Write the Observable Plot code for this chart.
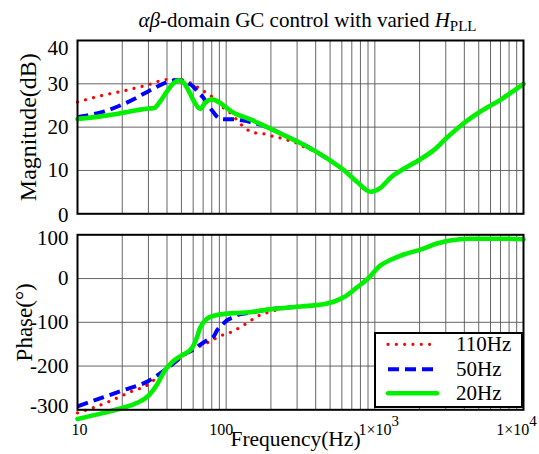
<!DOCTYPE html>
<html><head><meta charset="utf-8">
<script src="https://cdn.jsdelivr.net/npm/d3@7"></script>
<script src="https://cdn.jsdelivr.net/npm/@observablehq/plot@0.6"></script>
<style>
html,body{margin:0;padding:0;background:#fff;}
#wrap{position:relative;width:539px;height:454px;overflow:hidden;font-family:"Liberation Serif","Times New Roman",serif;}
#title{position:absolute;left:0;width:615px;top:10px;text-align:center;font-size:21px;line-height:21px;white-space:nowrap;color:#000;}
#title .sub{font-size:15px;position:relative;top:4px;}
.panel{position:absolute;left:0;}
#legend{position:absolute;left:374px;top:332px;width:145px;height:72px;border:2px solid #000;background:#fff;}
#legend svg{overflow:visible;display:block;}
</style></head>
<body>
<div id="wrap">
  <div id="title"><i>αβ</i>-domain GC control with varied <i>H</i><span class="sub">PLL</span></div>
  <div id="p1" class="panel" style="top:0px"></div>
  <div id="p2" class="panel" style="top:224px"></div>
  <div id="legend"></div>
</div>
<script>
// ---------- data ----------
const seriesNames = ["110Hz", "50Hz", "20Hz"];

// Magnitude (dB)
const magRedF = [10, 15, 20, 30, 40, 48, 55, 60, 70.6, 82.6, 96.4, 107, 128, 142, 161, 184, 209, 238, 270, 300, 340, 380, 420, 477];
const magRed  = [25.8, 27.4, 28.3, 29.8, 31.0, 31.0, 30.5, 29.8, 28.3, 26.7, 24.4, 23.2, 20.4, 19.2, 18.6, 18.4, 17.8, 17.4, 16.8, 16.3, 15.3, 14.7, 14.0, 12.8];

const magBlueF = [10, 15, 20, 25, 30, 35, 40, 48, 55, 60, 63.9, 70.6, 76, 82.6, 89, 96.4, 112.5, 131, 145, 188.7, 250, 318, 477];
const magBlue  = [22.3, 23.6, 25.2, 26.8, 28.3, 29.5, 30.4, 30.9, 30.2, 29.4, 28.3, 26.7, 25.0, 23.3, 22.1, 21.8, 21.8, 21.5, 21.2, 20.0, 18.0, 16.3, 12.8];

const magGreenF = [10, 15, 20, 25, 30, 33, 34.3, 36.1, 40.1, 44.4, 48, 51.9, 56.1, 60.6, 65.5, 67, 72.5, 80, 112.5, 150, 188.7, 250, 318, 477, 617, 760, 935, 1091, 1280, 1500, 2026, 2490, 3060, 3963, 5130, 6993, 10000];
const magGreen  = [21.9, 22.6, 23.3, 23.9, 24.3, 24.4, 25.0, 26.0, 28.3, 30.2, 30.8, 30.2, 28.3, 26.0, 24.4, 24.2, 25.7, 26.4, 23.3, 21.6, 20.0, 18.0, 16.3, 12.8, 10.1, 7.35, 5.1, 6.0, 8.4, 10.0, 12.6, 14.7, 17.6, 20.9, 23.6, 26.3, 30.0];

// Phase (deg)
const phRedF = [10, 12.6, 16.6, 22.7, 30, 36.1, 40, 45, 51.9, 59.1, 67, 78.4, 91.6, 107, 124.7, 142, 161, 198, 230, 318];
const phRed  = [-307, -296, -280, -259, -242, -219, -206, -192, -176, -162, -154, -143, -131, -123, -111, -99, -87, -76, -70, -64];

const phBlueF = [10, 15, 20, 30, 39, 45, 51.9, 59.1, 67, 70.6, 77, 82.6, 87, 94, 101.5, 112.5, 120, 140, 188.7, 318];
const phBlue  = [-292, -271, -256, -234, -208, -192, -174, -164, -151, -146, -138, -132, -118, -106, -95, -88, -83, -79, -71, -64];

const phGreenF = [10, 15, 20, 25.2, 30.2, 34.3, 39, 42.2, 44.4, 51.9, 59.1, 62.2, 67, 72.5, 82.6, 112.5, 145, 188.7, 318, 477, 528, 617, 760, 900, 1091, 1280, 1564, 2026, 2620, 3200, 4370, 7300, 10000];
const phGreen  = [-321, -307, -296, -284, -267, -242, -208, -195, -188, -173, -158, -143, -112, -95, -85, -79, -77, -71, -64, -57, -53, -43, -20, 0, 30, 43, 55, 66, 80, 87, 91, 91, 90];

// ticks
const freqDomain = [10, 10000];
const freqGrid = [20,30,40,50,60,70,80,90,100,200,300,400,500,600,700,800,900,1000,2000,3000,4000,5000,6000,7000,8000,9000];
const xTicks = [10, 100, 1000, 10000];
const xTickLabels = ["10", "100", "1×10^3", "1×10^4"];
const magTicks = [0, 10, 20, 30, 40];
const phaseTicks = [-300, -200, -100, 0, 100];

// ---------- styles ----------
const styles = {
  "110Hz": {stroke: "#ff0000", strokeWidth: 3.2, strokeDasharray: "0.01,8.3", strokeLinecap: "round"},
  "50Hz":  {stroke: "#0000ff", strokeWidth: 4, strokeDasharray: "11,6", strokeLinecap: "butt"},
  "20Hz":  {stroke: "#00f000", strokeWidth: 4.6, strokeLinecap: "round"}
};
const font = "'Liberation Serif','Times New Roman',serif";
const table = (F, V) => F.map((f, i) => ({f, v: V[i]}));

function yAxes(ticks, dyMap) {
  const common = {tickSize: 0, tickPadding: 9, fontSize: 21, tickFormat: d => String(d), label: null};
  return ticks.map(t => Plot.axisY([t], {...common, dy: dyMap[t] || 0}));
}
function lines(sets) {
  return sets.map(([name, F, V]) => Plot.line(table(F, V), {x: "f", y: "v", curve: "monotone-x", ...styles[name]}));
}

const gridStyle = {stroke: "#555", strokeOpacity: 1, strokeWidth: 0.9};

// ---------- magnitude panel ----------
const p1 = Plot.plot({
  width: 539, height: 224,
  marginTop: 40, marginBottom: 10.7, marginLeft: 77, marginRight: 16,
  style: {background: "none", overflow: "visible", fontFamily: font},
  x: {type: "log", domain: freqDomain, axis: null},
  y: {domain: [0, 40], axis: null},
  marks: [
    Plot.gridX(freqGrid, gridStyle),
    Plot.gridY([10, 20, 30], gridStyle),
    ...lines([["110Hz", magRedF, magRed], ["50Hz", magBlueF, magBlue], ["20Hz", magGreenF, magGreen]]),
    Plot.frame({stroke: "#000", strokeWidth: 2}),
    ...yAxes(magTicks, {40: 8, 0: 1}),
    Plot.text(["Magnitude(dB)"], {frameAnchor: "left", textAnchor: "middle", rotate: -90, dx: -49, fontSize: 24})
  ]
});
document.getElementById("p1").appendChild(p1);

// ---------- phase panel ----------
const p2 = Plot.plot({
  width: 539, height: 230,
  marginTop: 10.3, marginBottom: 44.7, marginLeft: 77, marginRight: 16,
  style: {background: "none", overflow: "visible", fontFamily: font},
  x: {type: "log", domain: freqDomain, axis: null},
  y: {domain: [-300, 100], axis: null},
  marks: [
    Plot.gridX(freqGrid, gridStyle),
    Plot.gridY([-200, -100, 0], gridStyle),
    ...lines([["110Hz", phRedF, phRed], ["50Hz", phBlueF, phBlue], ["20Hz", phGreenF, phGreen]]),
    Plot.frame({stroke: "#000", strokeWidth: 2}),
    ...yAxes(phaseTicks, {100: 3.8, "-300": -4}),
    ...xTicks.map((t, i) => Plot.axisX([t], {
      tickSize: 0, tickPadding: 14, fontSize: 16, label: null,
      tickFormat: d => xTickLabels[xTicks.indexOf(d)],
      dx: [2, -5, 4, -7][i]
    })),
    Plot.text(["Phase(°)"], {frameAnchor: "left", textAnchor: "middle", rotate: -90, dx: -53, fontSize: 23}),
    Plot.text(["Frequency(Hz)"], {frameAnchor: "bottom", textAnchor: "middle", dy: 36, dx: -5, fontSize: 21.5})
  ]
});
document.getElementById("p2").appendChild(p2);

// superscripts for 1×10^n tick labels
p2.querySelectorAll("text").forEach(t => {
  const s = t.textContent;
  if (s.includes("^")) {
    const [base, exp] = s.split("^");
    t.textContent = "";
    const a = document.createElementNS("http://www.w3.org/2000/svg", "tspan");
    a.textContent = base;
    const b = document.createElementNS("http://www.w3.org/2000/svg", "tspan");
    b.textContent = exp;
    b.setAttribute("dy", "-9");
    b.setAttribute("font-size", "15");
    t.appendChild(a); t.appendChild(b);
  }
});

// ---------- legend ----------
const NS = "http://www.w3.org/2000/svg";
const lg = document.createElementNS(NS, "svg");
lg.setAttribute("width", 145); lg.setAttribute("height", 72);
const rowY = [10.3, 35.3, 59.3];
seriesNames.forEach((name, i) => {
  const st = styles[name];
  const ln = document.createElementNS(NS, "line");
  ln.setAttribute("x1", 12); ln.setAttribute("x2", 61);
  ln.setAttribute("y1", rowY[i]); ln.setAttribute("y2", rowY[i]);
  ln.setAttribute("stroke", st.stroke);
  ln.setAttribute("stroke-width", st.strokeWidth);
  if (st.strokeDasharray) ln.setAttribute("stroke-dasharray", st.strokeDasharray);
  ln.setAttribute("stroke-linecap", st.strokeLinecap);
  lg.appendChild(ln);
  const tx = document.createElementNS(NS, "text");
  tx.setAttribute("x", 80); tx.setAttribute("y", rowY[i] + 7);
  tx.setAttribute("font-size", 21);
  tx.setAttribute("font-family", font);
  tx.textContent = name;
  lg.appendChild(tx);
});
document.getElementById("legend").appendChild(lg);
</script>
</body></html>
